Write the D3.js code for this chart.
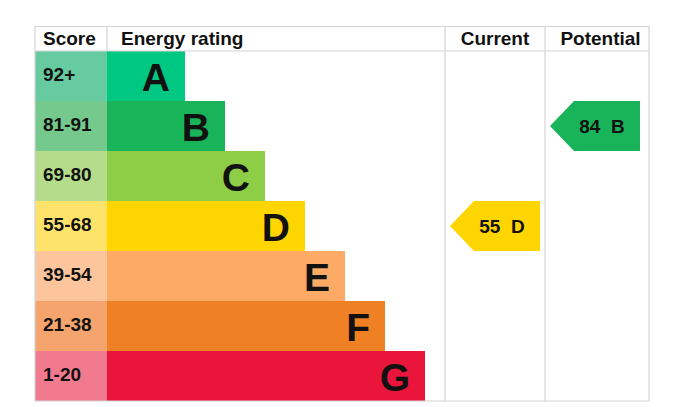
<!DOCTYPE html>
<html><head><meta charset="utf-8">
<script src="https://cdn.jsdelivr.net/npm/d3@7"></script>
<style>body{margin:0;background:#fff}svg{display:block}text{font-family:"Liberation Sans",Arial,sans-serif;font-weight:bold}</style>
</head><body><div id="chart"></div>
<script>
const ratings = ["A","B","C","D","E","F","G"];
const scoreLabels = ["92+","81-91","69-80","55-68","39-54","21-38","1-20"];
const scoreMins = [92,81,69,55,39,21,1];
const barColors = ["#00c781","#19b459","#8dce46","#ffd500","#fcaa65","#ef8023","#e9153b"];
const scoreColors = ["#66cba0","#75c98c","#b5dc8a","#fee36b","#fdc59c","#f4a46c","#f17a8e"];
const headers = ["Score","Energy rating","Current","Potential"];
const currentScore = 55;
const potentialScore = 84;

const W=686,H=407;
const svg=d3.select("#chart").append("svg").attr("width",W).attr("height",H);
const L=35,R=649,T=26,HB=51,B=401;
const colScore=107,colCur=445,colPot=545;
const y=d3.scaleBand().domain(ratings).range([HB,B]).padding(0);
const barEnd=d3.scaleLinear().domain([0,6]).range([185,425]);
const grid="#d4d4d4";
const ink="#111";

// rows
const rows=svg.selectAll("g.row").data(ratings).join("g");
rows.append("rect").attr("x",L).attr("y",d=>y(d)).attr("width",colScore-L).attr("height",y.bandwidth())
  .attr("fill",(d,i)=>scoreColors[i]);
rows.append("rect").attr("x",colScore).attr("y",d=>y(d)).attr("width",(d,i)=>barEnd(i)-colScore).attr("height",y.bandwidth())
  .attr("fill",(d,i)=>barColors[i]);
rows.append("text").attr("x",43).attr("y",d=>y(d)+30)
  .attr("font-size",19).attr("fill",ink).text((d,i)=>scoreLabels[i]);
rows.append("text").attr("x",(d,i)=>barEnd(i)-15).attr("y",d=>y(d)+40)
  .attr("text-anchor","end").attr("font-size",39).attr("fill",ink).text(d=>d);

// grid lines
const gl=(x1,y1,x2,y2)=>svg.append("line").attr("x1",x1).attr("y1",y1).attr("x2",x2).attr("y2",y2).attr("stroke",grid).attr("stroke-width",1.2);
gl(L,T+0.5,R,T+0.5);
gl(L,HB,R,HB);
gl(L,B,R,B);
gl(L,T,L,B);
gl(colScore,T,colScore,HB);
gl(colCur,T,colCur,B);
gl(colPot,T,colPot,B);
gl(R,T,R,B);

// headers
const hy=45;
svg.append("text").attr("x",43).attr("y",hy).attr("font-size",19).attr("fill",ink).text(headers[0]);
svg.append("text").attr("x",121).attr("y",hy).attr("font-size",19).attr("fill",ink).text(headers[1]);
svg.append("text").attr("x",495).attr("y",hy).attr("text-anchor","middle").attr("font-size",19).attr("fill",ink).text(headers[2]);
svg.append("text").attr("x",600.5).attr("y",hy).attr("text-anchor","middle").attr("font-size",19).attr("fill",ink).text(headers[3]);

function bandIndex(s){return scoreMins.findIndex(m=>s>=m);}
function arrow(score,x0,x1){
  const i=bandIndex(score), r=ratings[i];
  const top=y(r), h=y.bandwidth(), tip=x0, body=x0+24;
  svg.append("path").attr("d",`M${tip},${top+h/2}L${body},${top}L${x1},${top}L${x1},${top+h}L${body},${top+h}Z`).attr("fill",barColors[i]);
  svg.append("text").attr("x",(body+x1)/2-5).attr("y",top+31.5).attr("text-anchor","middle")
    .attr("font-size",19).attr("fill",ink).attr("xml:space","preserve").text(score+"  "+r);
}
arrow(currentScore,450,540);
arrow(potentialScore,550,640);
</script></body></html>
